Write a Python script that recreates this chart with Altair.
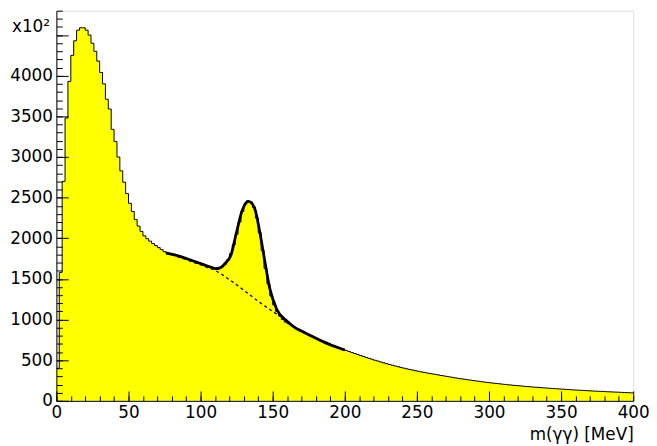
import altair as alt
import pandas as pd

# ---------------- data ----------------
BIN_WIDTH = 2  # MeV, 200 bins from 0 to 400

hist_counts = [
    # 0-44 MeV
    400, 1580, 2700, 3480, 3930, 4250, 4430, 4560, 4590, 4590, 4560, 4500,
    4400, 4300, 4180, 4040, 3900, 3710, 3590, 3340, 3190, 3000,
    # 44-76 MeV
    2830, 2690, 2550, 2430, 2330, 2230, 2150, 2085, 2030, 1995, 1965, 1935,
    1910, 1885, 1860, 1835,
    # 76-110 MeV
    1815, 1805, 1800, 1790, 1782, 1772, 1765, 1752, 1740, 1725, 1712, 1700,
    1686, 1672, 1660, 1648, 1635,
    # 110-160 MeV
    1628, 1630, 1648, 1680, 1735, 1810, 1920, 2050, 2200, 2330, 2420, 2460,
    2445, 2380, 2250, 2070, 1850, 1630, 1440, 1290, 1180, 1100, 1045, 1000, 968,
    # 160-200 MeV
    950, 930, 905, 885, 866, 848, 830, 813, 796, 780, 765, 750, 736, 722, 708,
    690, 676, 662, 648, 634,
    # 200-400 MeV
    620, 607, 594, 582, 570, 557, 545, 534, 522, 511,
    499, 489, 478, 468, 457, 447, 438, 429, 420, 411,
    402, 394, 386, 379, 371, 364, 357, 350, 343, 337,
    331, 325, 318, 312, 306, 300, 294, 288, 282, 276,
    271, 266, 260, 255, 250, 245, 240, 235, 231, 226,
    222, 218, 214, 210, 206, 202, 198, 195, 191, 188,
    185, 182, 178, 175, 172, 169, 167, 164, 161, 159,
    156, 153, 151, 148, 146, 144, 141, 139, 137, 134,
    132, 130, 128, 126, 124, 122, 120, 118, 117, 115,
    113, 111, 110, 108, 107, 105, 103, 102, 100, 98,
]

# full fit (signal + background)
fit_x = [76, 85, 95, 103, 108, 110.5, 113, 117, 121, 125, 129, 133, 135, 138,
         141, 144.7, 148, 152.7, 159.6, 166, 171, 178, 189, 200]
fit_y = [1820, 1780, 1720, 1670, 1638, 1626, 1632, 1690, 1790, 2080, 2350,
         2455, 2440, 2340, 2080, 1700, 1380, 1130, 985, 895, 850, 787, 695, 625]

# background component (dashed)
bg_x = [76, 85, 95, 105, 110.5, 120, 130, 140, 150, 157, 166, 178, 189, 200]
bg_y = [1815, 1768, 1705, 1640, 1600, 1490, 1360, 1225, 1100, 1020, 890, 782,
        691, 622]

x_major_ticks = [0, 50, 100, 150, 200, 250, 300, 350, 400]
x_minor_ticks = list(range(0, 401, 10))
y_major_ticks = [0, 500, 1000, 1500, 2000, 2500, 3000, 3500, 4000, 4500]
y_minor_ticks = list(range(0, 4801, 100))
X_DOMAIN = [0, 400]
Y_DOMAIN = [0, 4800]

# ---------------- tables ----------------
edges = [i * BIN_WIDTH for i in range(len(hist_counts))] + [X_DOMAIN[1]]
hist_df = pd.DataFrame({"m": edges, "n": hist_counts + [hist_counts[-1]]})
fit_df = pd.DataFrame({"m": fit_x, "n": fit_y})
bg_df = pd.DataFrame({"m": bg_x, "n": bg_y})
exp_df = pd.DataFrame({"t": ["x10\u00b2"]})

FONT = "DejaVu Sans"
FS = 17
W, H = 584, 395

xs = alt.Scale(domain=X_DOMAIN, nice=False, zero=False)
ys = alt.Scale(domain=Y_DOMAIN, nice=False, zero=False)

x_major_axis = alt.Axis(
    orient="bottom", values=x_major_ticks, format="d",
    tickSize=alt.ExprRef(expr="-10"), zindex=1,
    tickColor="black", tickWidth=1, labelPadding=14, labelFont=FONT,
    labelFontSize=FS, labelColor="black", labelFlush=False, labelOverlap=False,
    domainColor="black", grid=False, title="m(\u03b3\u03b3) [MeV]",
    titleFont=FONT, titleFontSize=FS, titleFontWeight="normal",
    titleColor="black", titleAlign="right", titleX=W, titleY=39,
    titleBaseline="alphabetic",
)
y_major_axis = alt.Axis(
    orient="left", values=y_major_ticks, format="d",
    tickSize=alt.ExprRef(expr="-12"), zindex=1,
    tickColor="black", tickWidth=1, labelPadding=16, labelFont=FONT,
    labelFontSize=FS, labelColor="black", labelOverlap=False,
    labelExpr="datum.value == 4500 ? '' : datum.label",
    domainColor="black", grid=False, title=None,
)
x_minor_axis = alt.Axis(
    orient="bottom", values=x_minor_ticks, tickSize=alt.ExprRef(expr="-5"),
    zindex=1, tickColor="black", tickWidth=1, labels=False, domain=False,
    grid=False, title=None,
)
y_minor_axis = alt.Axis(
    orient="left", values=y_minor_ticks, tickSize=alt.ExprRef(expr="-6"),
    zindex=1, tickColor="black", tickWidth=1, labels=False, domain=False,
    grid=False, title=None,
)

area = alt.Chart(hist_df).mark_area(
    interpolate="step-after", color="#ffff00"
).encode(
    x=alt.X("m:Q", scale=xs, axis=x_major_axis),
    y=alt.Y("n:Q", scale=ys, axis=y_major_axis),
)

outline = alt.Chart(hist_df).mark_line(
    interpolate="step-after", color="black", strokeWidth=1
).encode(
    x=alt.X("m:Q", scale=xs, axis=x_minor_axis),
    y=alt.Y("n:Q", scale=ys, axis=y_minor_axis),
)

bg_line = alt.Chart(bg_df).mark_line(
    interpolate="monotone", color="black", strokeWidth=1.3, strokeDash=[3, 3]
).encode(
    x=alt.X("m:Q", scale=xs, axis=None),
    y=alt.Y("n:Q", scale=ys, axis=None),
)

fit_line = alt.Chart(fit_df).mark_line(
    interpolate="monotone", color="black", strokeWidth=2.8
).encode(
    x=alt.X("m:Q", scale=xs, axis=None),
    y=alt.Y("n:Q", scale=ys, axis=None),
)

exponent = alt.Chart(exp_df).mark_text(
    font=FONT, fontSize=FS, color="black", align="left", baseline="alphabetic"
).encode(
    text="t:N", x=alt.value(-45), y=alt.value(22),
)

chart = alt.layer(area, outline, bg_line, fit_line, exponent).resolve_axis(
    x="independent", y="independent"
).properties(
    width=W, height=H,
    autosize=alt.AutoSizeParams(type="none"),
    padding={"left": 49, "top": 0, "right": 16, "bottom": 43},
).configure_view(
    stroke="black", strokeWidth=1
).configure(background="white")

chart.save("out.html", embed_options={"renderer": "svg", "actions": False})
